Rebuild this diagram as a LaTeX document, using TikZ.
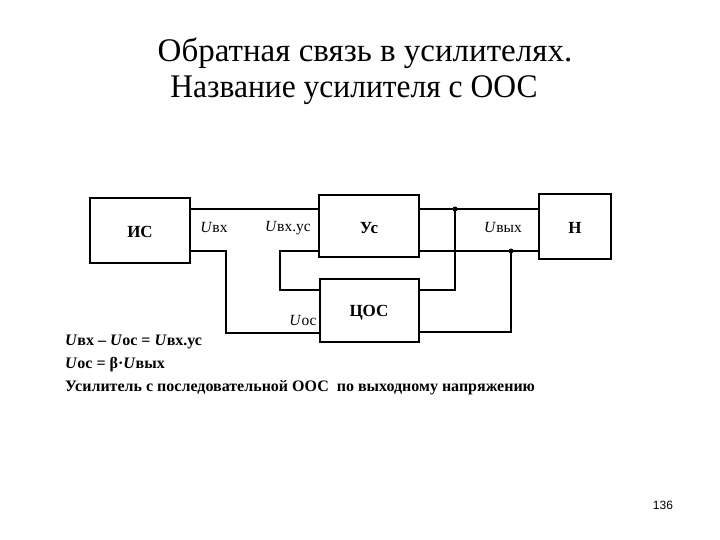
\documentclass[tikz,border=0pt]{standalone}
\usepackage{fontspec}
\setmainfont{Liberation Serif}
\setsansfont{Liberation Sans}
\begin{document}
\begin{tikzpicture}[x=1pt,y=-1pt,
  blk/.style={draw,line width=1.5pt,inner sep=0pt},
  wire/.style={line width=1.5pt},
  lbl/.style={font=\fontsize{15.5}{18}\selectfont,inner sep=0pt},
  eq/.style={anchor=west,inner sep=0pt,font=\fontsize{16}{18}\selectfont\bfseries},
  bt/.style={font=\fontsize{17}{19}\selectfont\bfseries},
  dot/.style={circle,fill,inner sep=0pt,minimum size=5pt}]
\useasboundingbox (0,0) rectangle (720,540);
% title
\node[font=\fontsize{33}{38}\selectfont] (t1) at (365,53) {Обратная связь в усилителях.};
\node[font=\fontsize{33}{38}\selectfont] (t2) at (354,90) {\scalebox{0.955}[1]{Название усилителя с ООС}};
% blocks
\node[blk,minimum width=100pt,minimum height=65pt] (is) at (140,230.5) {};
\node[bt] at (140,232) {ИС};
\node[blk,minimum width=100pt,minimum height=62pt] (us) at (369,226) {};
\node[bt] at (369,228) {Ус};
\node[blk,minimum width=99pt,minimum height=63pt] (tsos) at (369.5,310.5) {};
\node[bt] at (369,313) {ЦОС};
\node[blk,minimum width=72pt,minimum height=65pt] (n) at (575,226.5) {};
\node[bt] at (575,228) {Н};
% coordinates
\coordinate (d1) at (455,209);
\coordinate (d2) at (511,251);
% wires
\draw[wire] (190,209) -- (319,209);
\draw[wire] (190,251) -- (226,251) -- (226,333) -- (320,333);
\draw[wire] (319,251) -- (280,251) -- (280,290) -- (320,290);
\draw[wire] (419,209) -- (539,209);
\draw[wire] (419,251) -- (539,251);
\draw[wire] (d1) -- (455,290) -- (419,290);
\draw[wire] (d2) -- (511,332) -- (419,332);
\node[dot] at (d1) {};
\node[dot] at (d2) {};
% labels
\node[lbl] at (214,228) {\textit{U}вх};
\node[lbl] at (288,228) {\textit{U}вх.ус};
\node[lbl] at (503,228) {\textit{U}вых};
\node[lbl] at (303,320) {\textit{U}ос};
% equations
\node[eq] (e1) at (65,342) {\textit{U}вх – \textit{U}ос = \textit{U}вх.ус};
\node[eq] (e2) at (65,365) {\textit{U}ос = β·\textit{U}вых};
\node[eq] (e3) at (65,388) {Усилитель с последовательной ООС\ \ по выходному напряжению};
\node[font=\sffamily\fontsize{12}{14}\selectfont] (pg) at (663,505) {136};
\end{tikzpicture}
\end{document}
